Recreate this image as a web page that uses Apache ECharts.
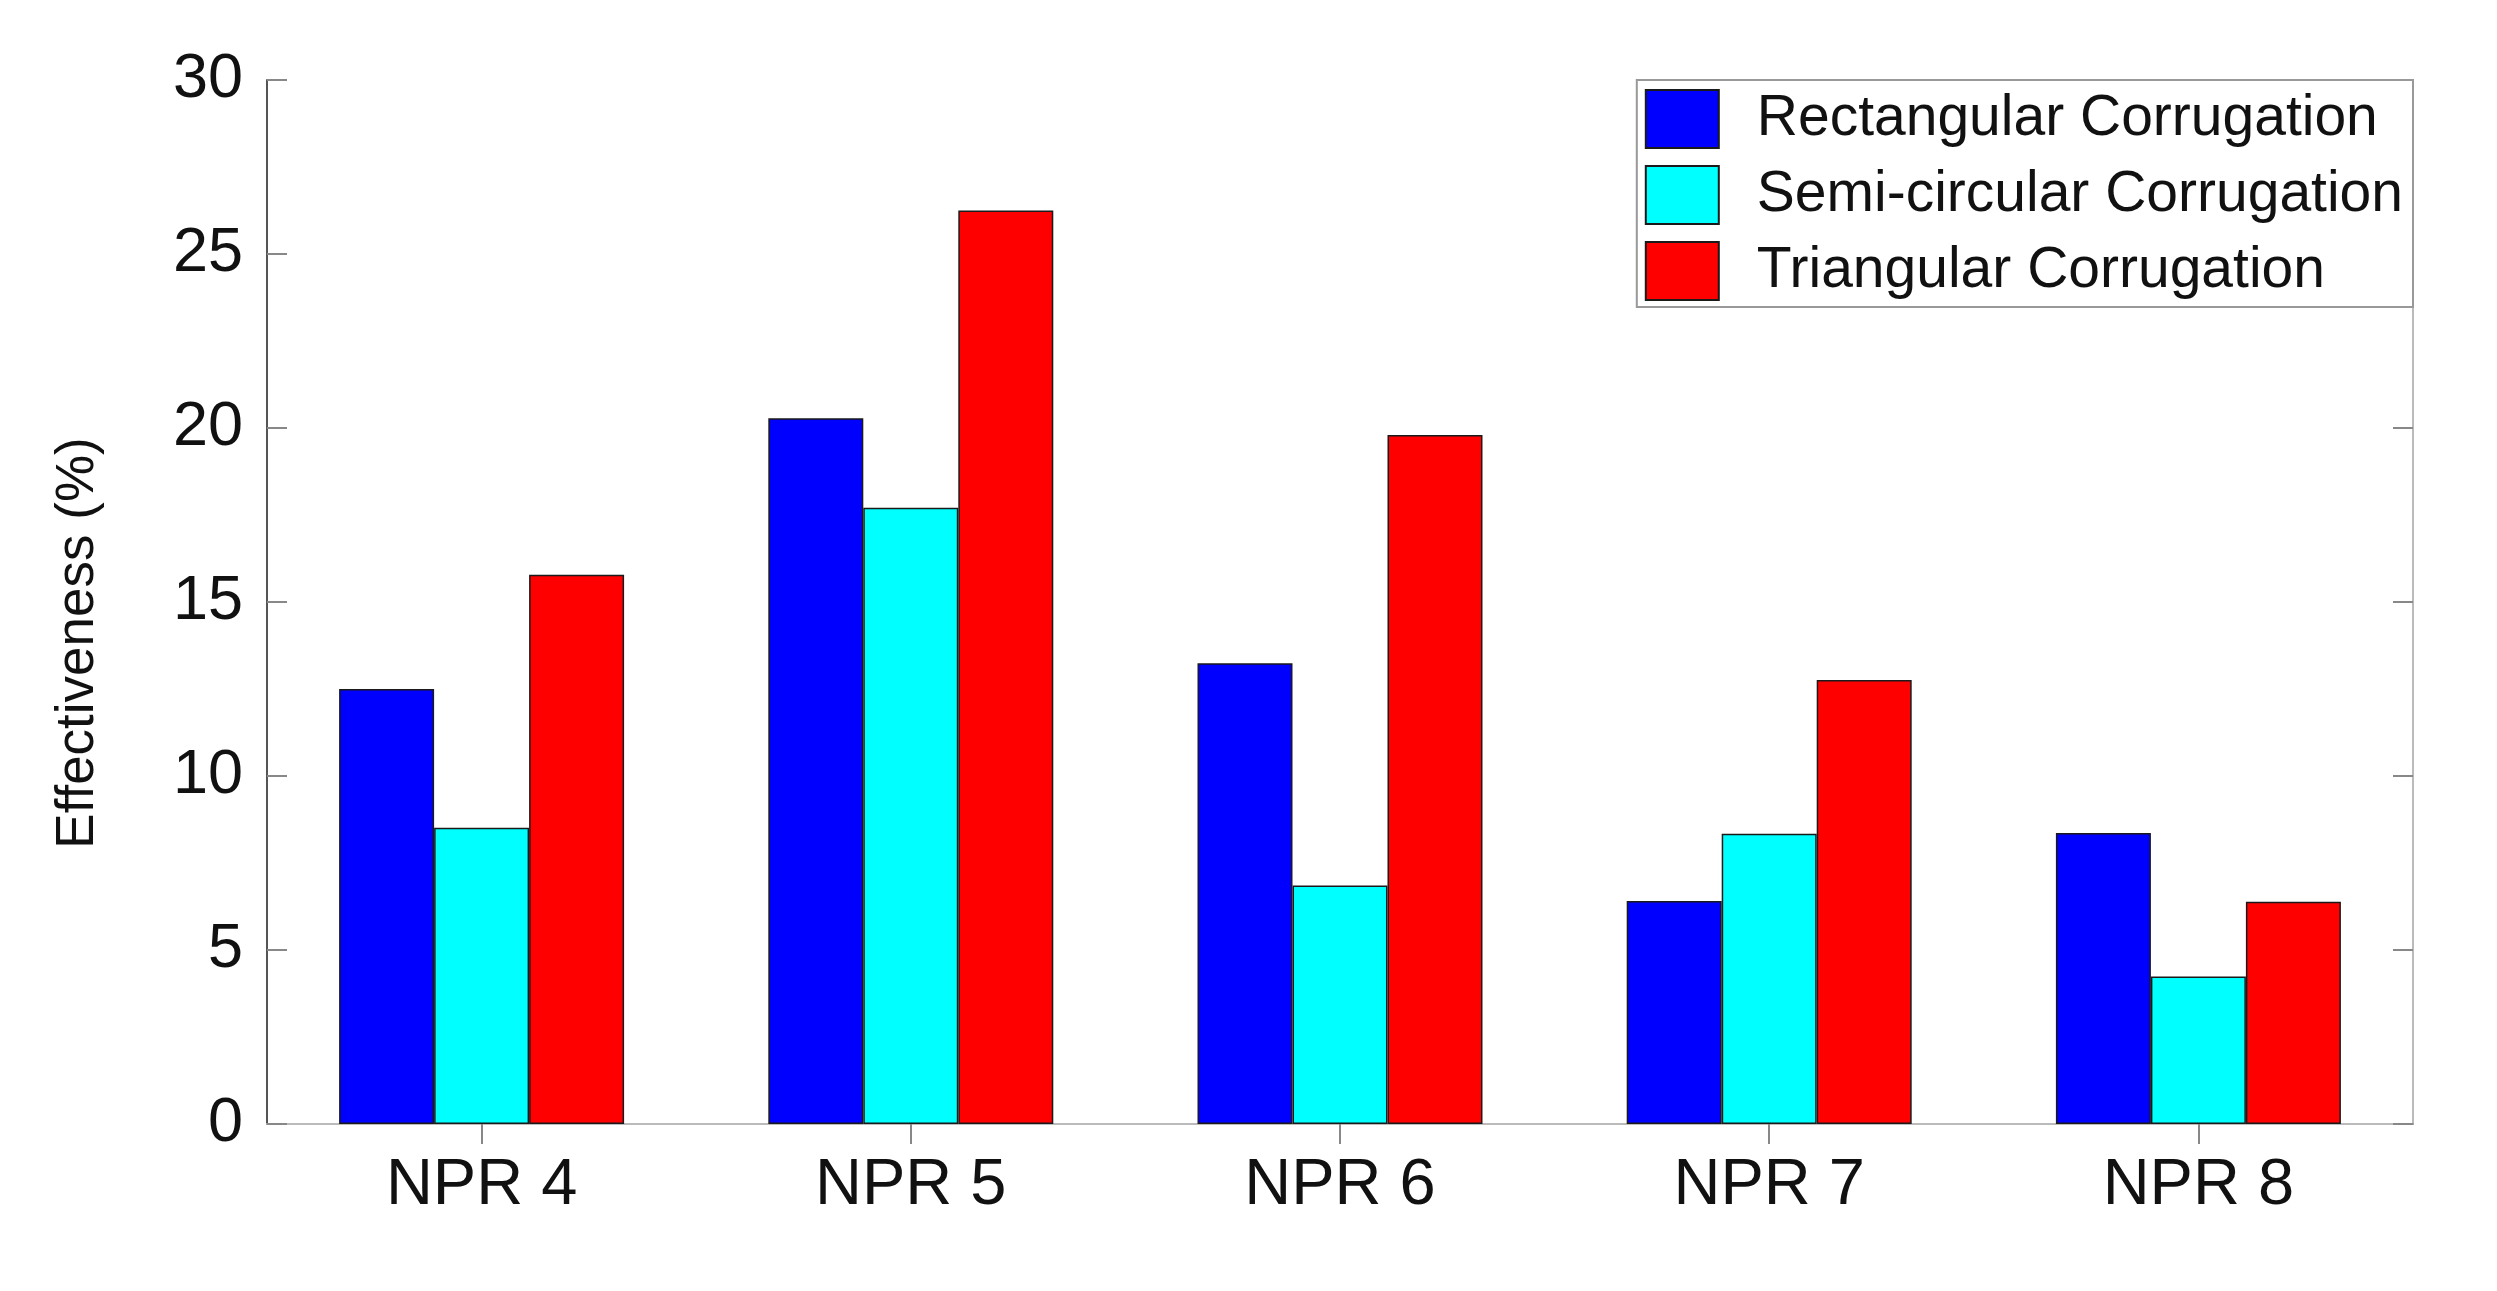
<!DOCTYPE html>
<html>
<head>
<meta charset="utf-8">
<script src="https://cdn.jsdelivr.net/npm/echarts@6/dist/echarts.min.js"></script>
<style>
html,body{margin:0;padding:0;background:#fff;}
#chart{width:2497px;height:1291px;}
</style>
</head>
<body>
<div id="chart"></div>
<script>
const categories = ['NPR 4', 'NPR 5', 'NPR 6', 'NPR 7', 'NPR 8'];
const rectangular = [12.5, 20.28, 13.24, 6.41, 8.36];
const semicircular = [8.51, 17.71, 6.85, 8.34, 4.24];
const triangular = [15.78, 26.25, 19.8, 12.76, 6.39];
const seriesNames = ['Rectangular Corrugation', 'Semi-circular Corrugation', 'Triangular Corrugation'];
const seriesColors = ['#0000FF', '#00FFFF', '#FF0000'];
const yTicks = [0, 5, 10, 15, 20, 25, 30];
const yTitle = 'Effectiveness (%)';

const FONT = "'Liberation Sans', Arial, Helvetica, sans-serif";
const chart = echarts.init(document.getElementById('chart'), null, {renderer: 'canvas'});

function barSeries(name, data, color) {
  return {
    name: name,
    type: 'bar',
    data: data,
    barGap: '0%',
    barCategoryGap: '33.6%',
    itemStyle: {color: color, borderColor: '#1a1a1a', borderWidth: 1.5},
    emphasis: {disabled: true},
    animation: false
  };
}

const option = {
  animation: false,
  backgroundColor: '#ffffff',
  textStyle: {fontFamily: FONT},
  grid: {left: 267, right: 84, top: 80, bottom: 167, containLabel: false},
  legend: {
    orient: 'vertical',
    right: 84,
    top: 80,
    padding: [9, 10, 6, 8],
    itemWidth: 73,
    itemHeight: 58,
    itemGap: 16,
    icon: 'rect',
    borderColor: '#999999',
    borderWidth: 2,
    backgroundColor: '#ffffff',
    selectedMode: false,
    data: seriesNames,
    textStyle: {fontFamily: FONT, fontSize: 57, color: '#111', padding: [0, 0, 0, 33]}
  },
  xAxis: [
    {
      type: 'category',
      data: categories,
      position: 'bottom',
      axisLine: {show: true, lineStyle: {color: '#555555', width: 2}},
      axisTick: {show: true, inside: true, alignWithLabel: true, length: 20, lineStyle: {color: '#555555', width: 2}},
      axisLabel: {fontFamily: FONT, fontSize: 65, color: '#111', margin: 30, interval: 0},
      splitLine: {show: false}
    },
    {
      type: 'category',
      data: categories,
      position: 'top',
      axisLine: {show: true, lineStyle: {color: '#bbbbbb', width: 2}},
      axisTick: {show: true, inside: true, alignWithLabel: true, length: 20, lineStyle: {color: '#888888', width: 2}},
      axisLabel: {show: false},
      splitLine: {show: false}
    }
  ],
  yAxis: [
    {
      type: 'value',
      min: yTicks[0],
      max: yTicks[yTicks.length - 1],
      interval: 5,
      position: 'left',
      axisLine: {show: true, lineStyle: {color: '#555555', width: 2}},
      axisTick: {show: true, inside: true, length: 20, lineStyle: {color: '#888888', width: 2}},
      axisLabel: {fontFamily: FONT, fontSize: 63, color: '#111', margin: 24},
      splitLine: {show: false}
    },
    {
      type: 'value',
      min: yTicks[0],
      max: yTicks[yTicks.length - 1],
      interval: 5,
      position: 'right',
      axisLine: {show: true, lineStyle: {color: '#bbbbbb', width: 2}},
      axisTick: {show: true, inside: true, length: 20, lineStyle: {color: '#888888', width: 2}},
      axisLabel: {show: false},
      splitLine: {show: false}
    }
  ],
  graphic: [
    {
      type: 'text',
      x: 78,
      y: 643,
      rotation: Math.PI / 2,
      style: {
        text: yTitle,
        fontFamily: FONT,
        fontSize: 53,
        fill: '#111',
        align: 'center',
        verticalAlign: 'middle'
      }
    }
  ],
  series: [
    barSeries(seriesNames[0], rectangular, seriesColors[0]),
    barSeries(seriesNames[1], semicircular, seriesColors[1]),
    barSeries(seriesNames[2], triangular, seriesColors[2])
  ]
};
chart.setOption(option);
</script>
</body>
</html>
